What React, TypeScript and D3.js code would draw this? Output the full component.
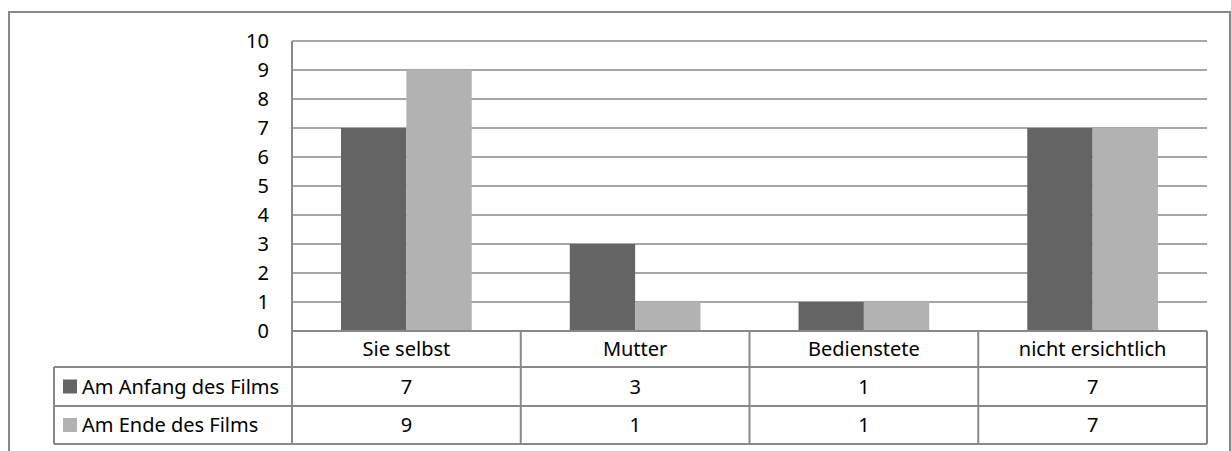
import * as d3 from 'd3';

const categories = ['Sie selbst', 'Mutter', 'Bedienstete', 'nicht ersichtlich'];
const seriesNames = ['Am Anfang des Films', 'Am Ende des Films'];
const anfangValues = [7, 3, 1, 7];
const endeValues = [9, 1, 1, 7];
const yTicks = [0, 1, 2, 3, 4, 5, 6, 7, 8, 9, 10];

const seriesColors = ['#646464', '#b2b2b2'];
const lineColor = '#888888';
const font = "'Noto Sans', sans-serif";
const fontSize = 20;

export default function App() {
  const width = 1231;
  const height = 451;
  const plot = { left: 292, right: 1207, top: 41, bottom: 331 };
  const tableLeft = 54;
  const rowLines = [331, 367, 406, 444];

  const series = [anfangValues, endeValues];

  const x = d3.scaleBand<string>().domain(categories).range([plot.left, plot.right]);
  const xInner = d3
    .scaleBand<number>()
    .domain([0, 1])
    .range([0, x.bandwidth()])
    .paddingInner(0)
    .paddingOuter(0.75);
  const y = d3.scaleLinear().domain([0, 10]).range([plot.bottom, plot.top]);

  return (
    <svg
      width={width}
      height={height}
      style={{ position: 'absolute', left: 0, top: 0, background: '#fff' }}
      fontFamily={font}
    >
      {/* chart frame */}
      <rect x={9} y={12} width={1221} height={460} fill="#fff" stroke={lineColor} strokeWidth={2} />

      {/* grid */}
      {yTicks.map((t) => (
        <line key={t} x1={plot.left} x2={plot.right} y1={y(t)} y2={y(t)} stroke={lineColor} strokeWidth={1.5} />
      ))}

      {/* bars */}
      {series.map((vals, si) =>
        vals.map((v, ci) => (
          <rect
            key={`${si}-${ci}`}
            x={(x(categories[ci]) ?? 0) + (xInner(si) ?? 0)}
            y={y(v)}
            width={xInner.bandwidth()}
            height={y(0) - y(v)}
            fill={seriesColors[si]}
          />
        ))
      )}

      {/* y tick labels */}
      {yTicks.map((t) => (
        <text key={t} x={269} y={y(t)} dy="0.36em" textAnchor="end" fontSize={fontSize} fill="#000">
          {t}
        </text>
      ))}

      {/* axis / table lines */}
      <line x1={plot.left} x2={plot.left} y1={plot.top} y2={rowLines[3]} stroke={lineColor} strokeWidth={2} />
      {rowLines.map((ry, i) => (
        <line
          key={ry}
          x1={i === 0 ? plot.left : tableLeft}
          x2={plot.right}
          y1={ry}
          y2={ry}
          stroke={lineColor}
          strokeWidth={2}
        />
      ))}
      <line x1={tableLeft} x2={tableLeft} y1={rowLines[1]} y2={rowLines[3]} stroke={lineColor} strokeWidth={2} />
      {categories.map((c) => (
        <line
          key={c}
          x1={(x(c) ?? 0) + x.bandwidth()}
          x2={(x(c) ?? 0) + x.bandwidth()}
          y1={rowLines[0]}
          y2={rowLines[3]}
          stroke={lineColor}
          strokeWidth={2}
        />
      ))}

      {/* category labels */}
      {categories.map((c) => (
        <text
          key={c}
          x={(x(c) ?? 0) + x.bandwidth() / 2}
          y={(rowLines[0] + rowLines[1]) / 2}
          dy="0.36em"
          textAnchor="middle"
          fontSize={fontSize}
        >
          {c}
        </text>
      ))}

      {/* table rows */}
      {series.map((vals, si) => {
        const rowMid = (rowLines[si + 1] + rowLines[si + 2]) / 2;
        return (
          <g key={si}>
            <rect x={63} y={rowMid - 7} width={14} height={14} fill={seriesColors[si]} />
            <text x={82} y={rowMid} dy="0.36em" fontSize={fontSize}>
              {seriesNames[si]}
            </text>
            {vals.map((v, ci) => (
              <text
                key={ci}
                x={(x(categories[ci]) ?? 0) + x.bandwidth() / 2}
                y={rowMid}
                dy="0.36em"
                textAnchor="middle"
                fontSize={fontSize}
              >
                {v}
              </text>
            ))}
          </g>
        );
      })}
    </svg>
  );
}
